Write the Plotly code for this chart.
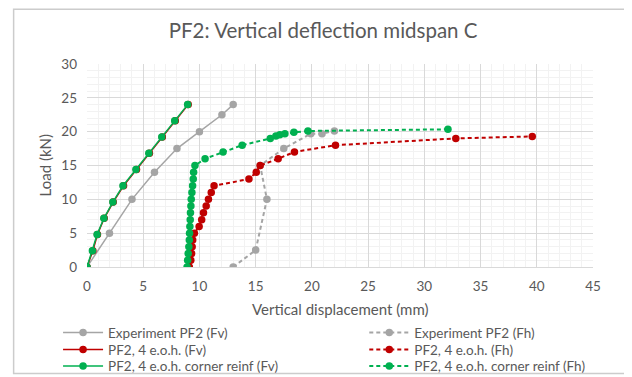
import plotly.graph_objects as go

# Experiment PF2
exp_fv_x = [0, 2, 4, 6, 8, 10, 12, 13]
exp_fv_y = [0, 5, 10, 14, 17.5, 20, 22.5, 24]
exp_fh_x = [13, 15, 16, 15.4, 17.5, 19.9, 20.9, 22.0]
exp_fh_y = [0, 2.5, 10, 15, 17.5, 19.7, 19.7, 20.1]

# PF2, 4 e.o.h.
eoh_fv_x = [0, 0.52, 0.93, 1.53, 2.33, 3.25, 4.4, 5.55, 6.7, 7.85, 9.0]
eoh_fv_y = [0, 2.4, 4.8, 7.2, 9.6, 12, 14.4, 16.8, 19.2, 21.6, 24]
eoh_fh_x = [9.1, 9.23, 9.3, 9.35, 9.4, 9.55, 9.97, 10.2, 10.36, 10.6, 10.8, 11.05, 11.3,
            14.4, 15.05, 15.4, 17.0, 18.45, 22.1, 32.8, 39.6]
eoh_fh_y = [0, 1, 2, 3, 4, 5, 6, 7, 8, 9, 10, 11, 12,
            13, 14, 15, 16, 17, 18, 19, 19.3]

# PF2, 4 e.o.h. corner reinf
cr_fv_x = [0, 0.48, 0.9, 1.5, 2.3, 3.2, 4.35, 5.5, 6.65, 7.8, 8.95]
cr_fv_y = [0, 2.4, 4.8, 7.2, 9.6, 12, 14.4, 16.8, 19.2, 21.6, 24]
cr_fh_x = [8.9, 8.95, 9.0, 9.06, 9.1, 9.12, 9.15, 9.18, 9.2, 9.24, 9.27, 9.33, 9.39, 9.45, 9.48, 9.6,
           10.5, 12.1, 13.8, 16.3, 16.8, 17.15, 17.6, 18.4, 19.65, 32.1]
cr_fh_y = [0, 1, 2, 3, 4, 5, 6, 7, 8, 9, 10, 11, 12, 13, 14, 15,
           16, 17, 18, 19, 19.35, 19.55, 19.7, 19.9, 20.1, 20.35]

GREY = "#a5a5a5"
RED = "#c00000"
GREEN = "#00b050"
TXT = "#595959"

fig = go.Figure()

def add(x, y, name, color, dash, legend):
    fig.add_trace(go.Scatter(
        x=x, y=y, name=name, mode="lines+markers", legend=legend,
        line=dict(color=color, width=1.5 if dash == "solid" else 2,
                  dash="solid" if dash == "solid" else "4px,3px"),
        marker=dict(color=color, size=7.5),
    ))

add(exp_fv_x, exp_fv_y, "Experiment PF2 (Fv)", GREY, "solid", "legend")
add(exp_fh_x, exp_fh_y, "Experiment PF2 (Fh)", GREY, "dash", "legend2")
add(eoh_fv_x, eoh_fv_y, "PF2, 4 e.o.h. (Fv)", RED, "solid", "legend3")
add(eoh_fh_x, eoh_fh_y, "PF2, 4 e.o.h. (Fh)", RED, "dash", "legend4")
add(cr_fv_x, cr_fv_y, "PF2, 4 e.o.h. corner reinf (Fv)", GREEN, "solid", "legend5")
add(cr_fh_x, cr_fh_y, "PF2, 4 e.o.h. corner reinf (Fh)", GREEN, "dash", "legend6")

def leg(x, y):
    return dict(orientation="v", x=x, xanchor="left", y=y, yanchor="middle",
                font=dict(size=13.5, color=TXT), itemwidth=40,
                bgcolor="rgba(0,0,0,0)", borderwidth=0)

XL, XR = -0.0572, 0.548
R1, R2, R3 = -0.324, -0.408, -0.489

fig.update_layout(
    width=624, height=369,
    margin=dict(l=78.7, r=38.7, t=56.3, b=110.3, autoexpand=False),
    paper_bgcolor="white", plot_bgcolor="white",
    font=dict(family="Lato, Carlito, sans-serif", size=12, color=TXT),
    title=dict(text="PF2: Vertical deflection midspan C", x=0.505, xanchor="center",
               y=0.9377, yanchor="middle", font=dict(size=20.5, color=TXT)),
    xaxis=dict(range=[0, 45], dtick=5, showgrid=True, gridcolor="#d9d9d9", gridwidth=1,
               minor=dict(dtick=1, showgrid=True, gridcolor="#f2f2f2"),
               zeroline=False, showline=True, linecolor="#d9d9d9",
               tickfont=dict(size=13.5, color=TXT), ticks="", ticklabelstandoff=7),
    yaxis=dict(range=[0, 30], dtick=5, showgrid=True, gridcolor="#d9d9d9", gridwidth=1,
               minor=dict(dtick=1, showgrid=True, gridcolor="#f2f2f2"),
               zeroline=False, showline=False,
               tickfont=dict(size=13.5, color=TXT), ticks="", ticklabelstandoff=9),
    legend=leg(XL, R1), legend2=leg(XR, R1),
    legend3=leg(XL, R2), legend4=leg(XR, R2),
    legend5=leg(XL, R3), legend6=leg(XR, R3),
    showlegend=True,
    annotations=[
        dict(text="Vertical displacement (mm)", xref="paper", yref="paper", x=0.5, y=-0.2055,
             xanchor="center", yanchor="middle", showarrow=False, font=dict(size=15, color=TXT)),
        dict(text="Load (kN)", xref="paper", yref="paper", x=-0.0823, y=0.502, textangle=-90,
             xanchor="center", yanchor="middle", showarrow=False, font=dict(size=15, color=TXT)),
    ],
    shapes=[dict(type="rect", xref="paper", yref="paper", x0=-0.145, x1=1.068, y0=-0.525, y1=1.27,
                 line=dict(color="#cccccc", width=1.5), fillcolor="rgba(0,0,0,0)", layer="above")],
)

fig.write_html("out.html")
